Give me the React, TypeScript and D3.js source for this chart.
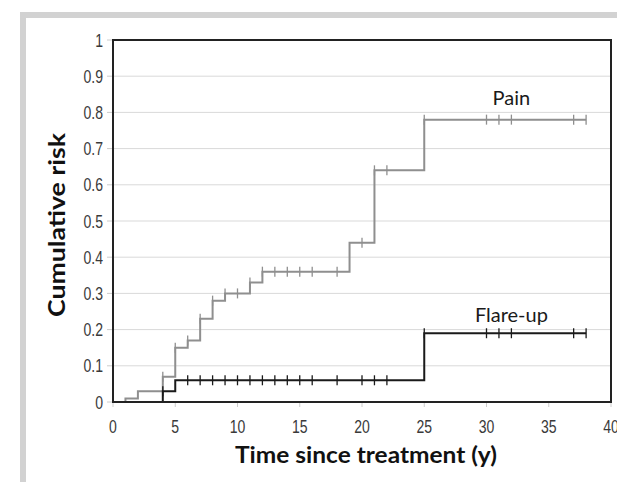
import React from 'react';
import * as d3 from 'd3';

// step data: [time (y), cumulative risk]
const painSteps: [number, number][] = [
  [1, 0], [1, 0.01], [2, 0.03], [4, 0.07], [5, 0.15], [6, 0.17], [7, 0.23], [8, 0.28],
  [9, 0.30], [11, 0.33], [12, 0.36], [19, 0.44], [21, 0.64], [25, 0.78], [38, 0.78],
];
const flareSteps: [number, number][] = [
  [1, 0], [4, 0.03], [5, 0.06], [25, 0.19], [38, 0.19],
];
const painCensored = [4, 5, 6, 7, 8, 9, 10, 11, 12, 13, 14, 15, 16, 18, 20, 21, 22, 25, 30, 31, 32, 37, 38];
const flareCensored = [4, 6, 7, 8, 9, 10, 11, 12, 13, 14, 15, 16, 18, 20, 21, 22, 25, 30, 31, 32, 37, 38];
const xTicks = [0, 5, 10, 15, 20, 25, 30, 35, 40];
const yTicks = [0, 0.1, 0.2, 0.3, 0.4, 0.5, 0.6, 0.7, 0.8, 0.9, 1];

const W = 617;
const H = 482;
const plot = { left: 113, right: 611, top: 40, bottom: 402 };

const valueAt = (steps: [number, number][], t: number) => {
  let v = steps[0][1];
  for (const [x, y] of steps) if (x <= t) v = y;
  return v;
};

const fmtY = (v: number) => (v === 0 ? '0' : v === 1 ? '1' : d3.format('.1f')(v));

export default function App() {
  const x = d3.scaleLinear().domain([0, 40]).range([plot.left, plot.right]);
  const y = d3.scaleLinear().domain([0, 1]).range([plot.bottom, plot.top]);
  const line = d3.line<[number, number]>()
    .x((d) => x(d[0]))
    .y((d) => y(d[1]))
    .curve(d3.curveStepAfter);

  // tick labels in the original are a condensed sans, so squeeze a regular one
  const tickLabel = { fontFamily: '"Liberation Sans", Arial, sans-serif', fontSize: 18, fill: '#3a3a3a' };
  const squeeze = 0.78;
  const titleFont = { fontFamily: 'Lato, "Open Sans", sans-serif', fontWeight: 700, fontSize: 22, fill: '#111' };
  const labelFont = { fontFamily: 'Lato, "Open Sans", sans-serif', fontSize: 20, fill: '#1a1a1a' };

  const censorMarks = (steps: [number, number][], times: number[], color: string) =>
    times.map((t) => {
      const cy = y(valueAt(steps, t));
      return <line key={t} x1={x(t)} x2={x(t)} y1={cy - 5} y2={cy + 5} stroke={color} strokeWidth={1.3} />;
    });

  return (
    <svg width={W} height={H} style={{ position: 'absolute', left: 0, top: 0, background: '#fff' }}>
      {/* outer grey frame */}
      <rect x={20} y={12} width={W} height={H} fill="#d2d2d2" />
      <rect x={26} y={18} width={W} height={H} fill="#fff" />

      {/* gridlines */}
      {yTicks.slice(1, -1).map((t) => (
        <line key={t} x1={plot.left} x2={plot.right} y1={y(t)} y2={y(t)} stroke="#d9d9d9" strokeWidth={1} />
      ))}

      {/* axes ticks + labels */}
      {xTicks.map((t) => (
        <g key={t}>
          <line x1={x(t)} x2={x(t)} y1={plot.bottom} y2={plot.bottom + 5} stroke="#ccc" />
          <text transform={`translate(${x(t)}, 433) scale(${squeeze}, 1)`} textAnchor="middle" {...tickLabel}>{t}</text>
        </g>
      ))}
      {yTicks.map((t) => (
        <g key={t}>
          <line x1={plot.left - 6} x2={plot.left} y1={y(t)} y2={y(t)} stroke="#ccc" />
          <text transform={`translate(${plot.left - 10}, ${y(t) + 6.5}) scale(${squeeze}, 1)`} textAnchor="end" {...tickLabel}>
            {fmtY(t)}
          </text>
        </g>
      ))}

      {/* curves */}
      <path d={line(painSteps) ?? ''} fill="none" stroke="#8f8f8f" strokeWidth={2} />
      {censorMarks(painSteps, painCensored, '#8f8f8f')}
      <path d={line(flareSteps) ?? ''} fill="none" stroke="#1a1a1a" strokeWidth={2} />
      {censorMarks(flareSteps, flareCensored, '#1a1a1a')}

      {/* plot border */}
      <rect x={plot.left} y={plot.top} width={plot.right - plot.left} height={plot.bottom - plot.top}
        fill="none" stroke="#222" strokeWidth={2} />

      {/* series labels */}
      <text x={x(32)} y={105} textAnchor="middle" {...labelFont}>Pain</text>
      <text x={x(32)} y={322} textAnchor="middle" {...labelFont}>Flare-up</text>

      {/* axis titles */}
      <text x={366} y={463} textAnchor="middle" textLength={262} lengthAdjust="spacingAndGlyphs" {...titleFont}>
        Time since treatment (y)
      </text>
      <text transform="translate(65, 225) rotate(-90)" textAnchor="middle" textLength={184}
        lengthAdjust="spacingAndGlyphs" {...titleFont}>
        Cumulative  risk
      </text>
    </svg>
  );
}
